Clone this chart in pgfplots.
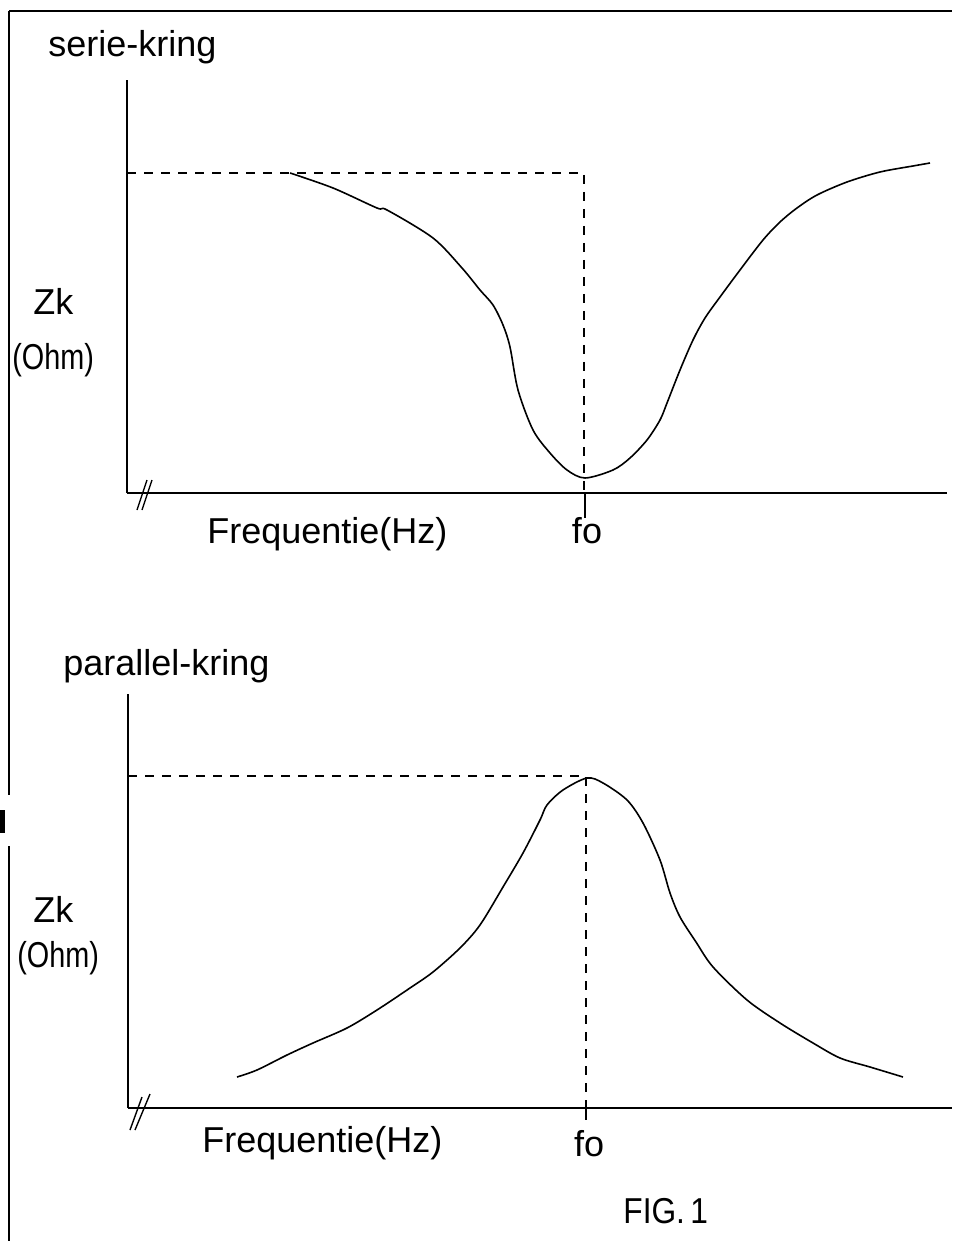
\documentclass[border=0pt]{standalone}
\usepackage{fontspec}
\setmainfont{Liberation Sans}
\usepackage{pgfplots}
\pgfplotsset{compat=1.18}
\begin{document}
\begin{tikzpicture}
\begin{scope}[x=0.5pt,y=-0.5pt,every node/.style={inner sep=0pt,font=\fontsize{18}{20}\selectfont}]
\path (0,0) rectangle (956,1245);
% frame
\draw[line width=1pt] (9,11) -- (952,11);
\draw[line width=1pt] (9,11) -- (9,795);
\draw[line width=1pt] (9,846) -- (9,1241);
\fill (0,810) rectangle (5,833);
% break marks
\draw[line width=0.7pt] (137,510) -- (147,480);
\draw[line width=0.7pt] (142,510) -- (152,480);
\draw[line width=0.7pt] (130,1130) -- (142,1097);
\draw[line width=0.7pt] (135,1130) -- (150,1094);
% texts
\node[anchor=base west] at (48,57) {serie-kring};
\node[anchor=base west] at (33,315) {Zk};
\node[anchor=west] at (12,360) {\scalebox{0.8}[1]{(Ohm)}};
\node[anchor=base west] at (207,543) {Frequentie(Hz)};
\node[anchor=base] at (587,543) {fo};
\node[anchor=base west] at (63,675) {parallel-kring};
\node[anchor=base west] at (33,922) {Zk};
\node[anchor=west] at (17,958) {\scalebox{0.8}[1]{(Ohm)}};
\node[anchor=base west] at (202,1152) {Frequentie(Hz)};
\node[anchor=base] at (589,1156) {fo};
\node[anchor=base west] at (623,1223) {\scalebox{0.88}[1]{FIG.\,1}};
\end{scope}

% ---- top: serie-kring ----
\begin{axis}[
  at={(63.5pt,-246.5pt)}, anchor=south west,
  x=0.5pt, y=0.5pt,
  xmin=0, xmax=820, ymin=0, ymax=413,
  axis lines=left, axis line style={-, line width=0.9pt},
  xtick=\empty, ytick=\empty, clip=false]
\addplot[line width=0.7pt, dash pattern=on 4.5pt off 4pt] coordinates {(0,320) (457,320) (457,0)};
\addplot[line width=0.9pt] coordinates {(458,0) (458,-25)};
\addplot[smooth, line width=0.8pt] coordinates {
(163,320) (206,305) (250,285) (260,283) (306,255) (335,225) (353,203)
(366,188) (376,168) (383,146) (391,103) (406,63) (423,40) (440,23)
(458,15) (486,23) (503,35) (520,53) (533,73) (540,90) (553,123)
(566,153) (578,175) (593,196) (613,223) (636,253) (653,271) (670,285)
(690,298) (720,311) (753,321) (786,327) (803,330)};
\end{axis}

% ---- bottom: parallel-kring ----
\begin{axis}[
  at={(64pt,-554pt)}, anchor=south west,
  x=0.5pt, y=0.5pt,
  xmin=0, xmax=824, ymin=0, ymax=414,
  axis lines=left, axis line style={-, line width=0.9pt},
  xtick=\empty, ytick=\empty, clip=false]
\addplot[line width=0.7pt, dash pattern=on 4.5pt off 4pt] coordinates {(0,332) (458,332) (458,0)};
\addplot[line width=0.9pt] coordinates {(458,0) (458,-12)};
\addplot[smooth, line width=0.8pt] coordinates {
(109,31) (129,38) (159,53) (185,65) (219,80) (249,98) (282,120)
(305,136) (332,160) (352,183) (375,221) (395,255) (412,288) (419,303)
(435,318) (459,330) (475,325) (499,308) (515,285) (532,248) (542,215)
(552,191) (568,166) (585,141) (619,108) (652,85) (685,65) (712,50)
(742,41) (775,31)};
\end{axis}
\end{tikzpicture}
\end{document}
